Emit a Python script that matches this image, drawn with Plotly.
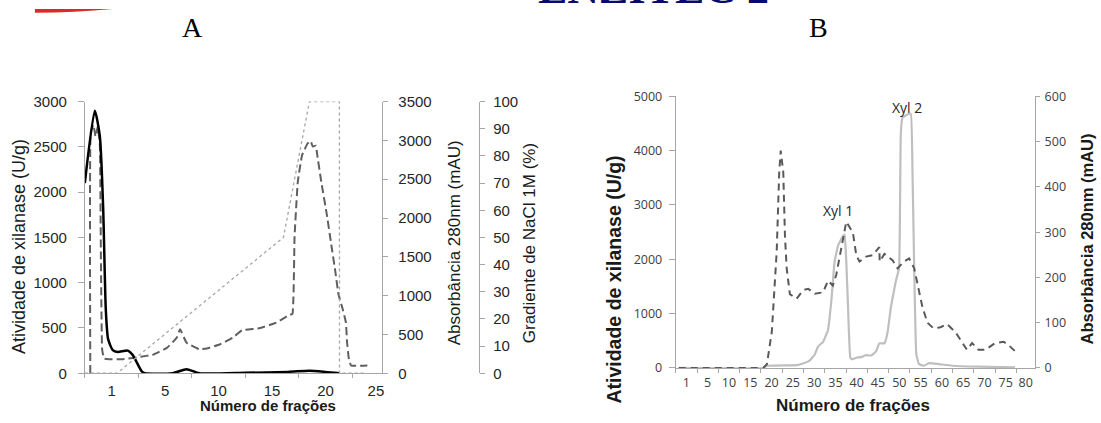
import plotly.graph_objects as go

W, H = 1101, 423

# ---------------- Panel A data ----------------
# x positions on the fraction axis (one tick interval = 5 units)
a_tick_pos = [0, 5, 10, 15, 20, 25]
a_label_pos = [2.5, 7.5, 12.5, 17.5, 22.5, 27.2]
a_labels = ["1", "5", "10", "15", "20", "25"]

a_act_x = [0, 0.93, 1.40, 1.71, 1.96, 2.17, 2.61, 3.08, 4.01, 4.48, 5.32, 5.60,
           8.2, 9.5, 10.7, 15.0, 19.0, 21.0, 22.5, 23.8]
a_act_y = [2100, 2900, 2620, 1830, 700, 380, 255, 235, 250, 200, 20, 0,
           0, 45, 0, 5, 15, 28, 15, 0]

a_abs_x = [0.51, 0.55, 0.8, 1.0, 1.2, 1.4, 1.5, 1.62, 1.8, 2.3, 3.5, 5.1, 6.4, 7.7,
           8.6, 8.9, 9.5, 10.7, 11.4, 12.6, 13.8, 14.7, 16.3, 17.9, 19.1, 19.4,
           19.6, 19.9, 20.3, 20.8, 21.1, 21.3, 21.6, 21.7, 22.1, 22.6, 23.0, 23.4,
           23.7, 24.1, 24.4, 24.5, 24.7, 24.9, 26.4]
a_abs_y = [0, 3100, 3200, 3050, 3180, 2950, 1500, 300, 190, 180, 180, 210, 240, 330,
           460, 567, 394, 308, 320, 370, 456, 554, 579, 653, 751, 764,
           1762, 2464, 2809, 2957, 2994, 2920, 2932, 2833, 2464, 2057, 1688, 1318,
           1022, 825, 653, 407, 160, 99, 100]

a_nacl_x = [0, 3.0, 18.56, 20.99, 23.79, 23.8, 26.3]
a_nacl_y = [0, 0, 50, 100, 100, 0, 0]

# ---------------- Panel B data ----------------
b_tick_pos = [-2.5 + 5 * k for k in range(17)]
b_label_pos = [0, 5, 10, 15, 20, 25, 30, 35, 40, 45, 50, 55, 60, 65, 70, 75, 79.7]
b_labels = ["1", "5", "10", "15", "20", "25", "30", "35", "40", "45", "50",
            "55", "60", "65", "70", "75", "80"]

b_act_x = [-1.8, 18.0, 18.95, 25.95, 27.4, 29.0, 30.15, 30.9, 32.1, 33.25, 34.05,
           34.8, 35.6, 36.75, 37.15, 37.55, 37.9, 38.5, 38.95, 39.9, 41.05, 42.2,
           43.4, 44.55, 45.3, 46.5, 47.25, 48.05, 49.2, 49.95, 50.35, 50.75, 51.9,
           52.7, 53.1, 53.5, 54.0, 54.65, 55.8, 57.0, 59.3, 62.4, 68.6, 77.2]
b_act_y = [0, 0, 40, 53, 83, 141, 247, 394, 482, 700, 1249,
           1956, 2249, 2426, 2456, 1956, 1249, 189, 159, 189, 200, 235,
           230, 306, 454, 454, 659, 1131, 1603, 1838, 4311, 4607, 4665,
           4677, 3605, 1838, 247, 71, 41, 90, 71, 41, 23, 12]

b_abs_x = [-1.8, 18.0, 18.9, 20.05, 21.2, 21.8, 22.15, 22.75, 23.15, 23.55, 24.3,
           25.9, 27.4, 28.6, 30.15, 32.1, 33.25, 34.4, 35.2, 36.4, 37.55, 39.1,
           39.9, 40.65, 42.2, 43.75, 45.3, 45.4, 46.5, 48.4, 49.6, 51.1, 52.3,
           53.5, 54.6, 55.4, 56.6, 58.1, 59.7, 61.2, 63.2, 64.7, 65.9, 67.1,
           68.6, 70.2, 72.5, 74.5, 75.6, 77.2]
b_abs_y = [0, 0, 8, 79, 256, 432, 480, 432, 290, 220, 163,
           153, 172, 175, 164, 167, 193, 182, 206, 263, 323, 299,
           249, 235, 246, 249, 267, 235, 252, 238, 220, 235, 242,
           220, 172, 136, 100, 87, 90, 97, 79, 58, 40, 55,
           40, 40, 55, 58, 51, 37]

b_peak_names = ["Xyl 1", "Xyl 2"]
b_peak_x = [35.5, 51.8]
b_peak_y = [2898, 4789]


def px(x):
    return x / W


def py(y):
    return 1 - y / H


AX_GRAY = "#a6a6a6"
A_FONT = "Liberation Sans"
B_FONT = "Open Sans"

fig = go.Figure()

# Panel A traces
fig.add_trace(go.Scatter(x=a_nacl_x, y=a_nacl_y, xaxis="x", yaxis="y3", mode="lines",
                         line=dict(color="#a6a6a6", width=1.3, dash="dot"),
                         showlegend=False, hoverinfo="skip"))
fig.add_trace(go.Scatter(x=a_abs_x, y=a_abs_y, xaxis="x", yaxis="y2", mode="lines",
                         line=dict(color="#5f5f5f", width=2, dash="8px,4px",
                                   shape="spline", smoothing=0.3),
                         showlegend=False, hoverinfo="skip"))
fig.add_trace(go.Scatter(x=a_act_x, y=a_act_y, xaxis="x", yaxis="y", mode="lines",
                         line=dict(color="#000000", width=2.5, shape="spline", smoothing=0.6),
                         showlegend=False, hoverinfo="skip"))

# Panel B traces
fig.add_trace(go.Scatter(x=b_act_x, y=b_act_y, xaxis="x2", yaxis="y4", mode="lines",
                         line=dict(color="#bfbfbf", width=2.2, shape="spline", smoothing=0.3),
                         showlegend=False, hoverinfo="skip"))
fig.add_trace(go.Scatter(x=b_abs_x, y=b_abs_y, xaxis="x2", yaxis="y5", mode="lines",
                         line=dict(color="#595959", width=2, dash="7px,5px"),
                         showlegend=False, hoverinfo="skip"))

a_dom_x = [px(85), px(383)]
a_dom_y = [py(379.5), py(96.5)]
b_dom_x = [px(677), px(1037)]
b_dom_y = [py(374), py(91)]

tickA = dict(family=A_FONT, size=15, color="#262626")
tickB = dict(family=B_FONT, size=12.5, color="#404040")

fig.update_layout(
    width=W, height=H, margin=dict(l=0, r=0, t=0, b=0),
    paper_bgcolor="white", plot_bgcolor="rgba(0,0,0,0)",
    showlegend=False,
    xaxis=dict(domain=a_dom_x, anchor="y2", range=[0, 27.8], showgrid=False, zeroline=False,
               showline=True, linecolor=AX_GRAY, linewidth=1,
               tickmode="array", tickvals=a_label_pos, ticktext=a_labels, ticks="",
               tickfont=tickA, ticklabelstandoff=4,
               minor=dict(tickmode="array", tickvals=a_tick_pos, ticks="outside",
                          ticklen=4, tickcolor=AX_GRAY, showgrid=False)),
    yaxis2=dict(domain=a_dom_y, anchor="x", side="right", range=[0, 3500], dtick=500,
                showgrid=False, zeroline=False, showline=True, linecolor=AX_GRAY,
                ticks="outside", ticklen=5, tickcolor=AX_GRAY, tickfont=tickA,
                ticklabelstandoff=7),
    yaxis=dict(overlaying="y2", anchor="x", side="left", range=[0, 3000], dtick=500,
               showgrid=False, zeroline=False, showline=True, linecolor=AX_GRAY,
               ticks="outside", ticklen=6, tickcolor=AX_GRAY, tickfont=tickA,
               ticklabelstandoff=8),
    yaxis3=dict(overlaying="y2", anchor="free", position=px(480), side="right",
                range=[0, 100], dtick=10, showgrid=False, zeroline=False,
                showline=True, linecolor=AX_GRAY, ticks="outside", ticklen=5,
                tickcolor=AX_GRAY, tickfont=tickA, ticklabelstandoff=5),
    xaxis2=dict(domain=b_dom_x, anchor="y4", range=[-2.5, 81.9], showgrid=False,
                zeroline=False, showline=True, linecolor=AX_GRAY,
                tickmode="array", tickvals=b_label_pos, ticktext=b_labels, ticks="",
                tickfont=tickB, ticklabelstandoff=3,
                minor=dict(tickmode="array", tickvals=b_tick_pos, ticks="outside",
                           ticklen=4, tickcolor=AX_GRAY, showgrid=False)),
    yaxis4=dict(domain=b_dom_y, anchor="x2", side="left", range=[0, 5000], dtick=1000,
                showgrid=False, zeroline=False, showline=True, linecolor=AX_GRAY,
                ticks="outside", ticklen=6, tickcolor=AX_GRAY, tickfont=tickB,
                ticklabelstandoff=4),
    yaxis5=dict(overlaying="y4", anchor="x2", side="right", range=[0, 600], dtick=100,
                showgrid=False, zeroline=False, showline=True, linecolor=AX_GRAY,
                ticks="outside", ticklen=4, tickcolor=AX_GRAY, tickfont=tickB,
                ticklabelstandoff=2),
)

ann = []


def title(text, x, y, size, bold=False, angle=0, family=A_FONT, color="#1a1a1a"):
    ann.append(dict(text=("<b>%s</b>" % text) if bold else text, x=px(x), y=py(y),
                    xref="paper", yref="paper", showarrow=False, textangle=angle,
                    xanchor="center", yanchor="middle",
                    font=dict(family=family, size=size, color=color)))


title("Atividade de xilanase (U/g)", 19, 247, 18, angle=-90)
title("Absorbância 280nm (mAU)", 455, 244, 17, angle=-90)
title("Gradiente de NaCl 1M (%)", 530, 244, 17, angle=-90)
title("Número de frações", 268, 413, 15, bold=True)
title("Atividade de xilanase (U/g)", 615, 282, 19.5, bold=True, angle=-90)
title("Absorbância 280nm (mAU)", 1089, 240, 16.5, bold=True, angle=-90)
title("Número de frações", 855, 413, 17, bold=True)
title("A", 193, 19, 28, family="Liberation Serif", color="#000000")
title("B", 820, 19, 28, family="Liberation Serif", color="#000000")

# header fragment (only its lower edge shows at the top of the page)
ann.append(dict(text="<b>ENZITEC 2</b>", x=px(655), y=py(6), xref="paper", yref="paper",
                showarrow=False, xanchor="center", yanchor="bottom",
                font=dict(family="Liberation Serif", size=44, color="#0a0a6e")))

for name, xv, yv in zip(b_peak_names, b_peak_x, b_peak_y):
    ann.append(dict(text=name, x=xv, y=yv, xref="x2", yref="y4", showarrow=False,
                    xanchor="center", yanchor="middle",
                    font=dict(family=B_FONT, size=14, color="#262626")))

fig.update_layout(annotations=ann)

# red swoosh fragment of the header logo
path = "M %f,%f Q %f,%f %f,%f L %f,%f Z" % (px(35), py(4), px(75), py(3.5), px(113), py(0),
                                             px(35), py(0))
fig.add_shape(type="path", path=path, xref="paper", yref="paper",
              fillcolor="#e0282a", line=dict(width=0))

fig.write_html("out.html", config={"displayModeBar": False},
               post_script="document.body.style.margin='0';")
